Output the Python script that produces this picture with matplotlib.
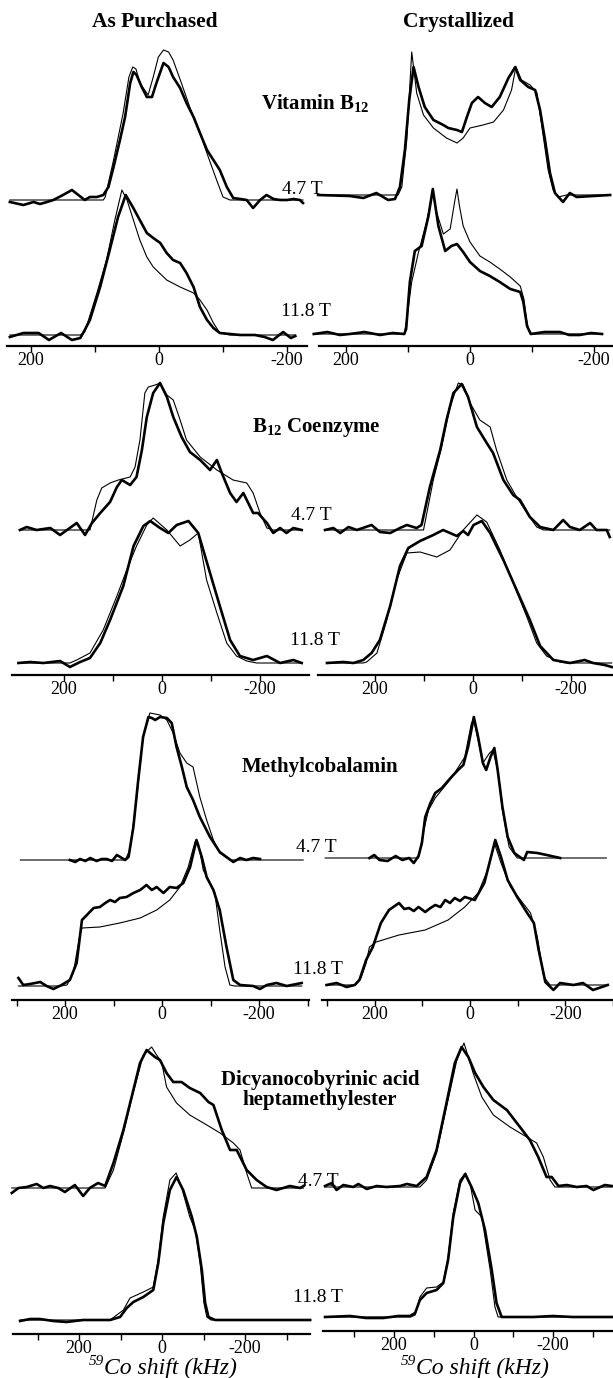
import matplotlib
matplotlib.use("Agg")
import matplotlib.pyplot as plt

# ---- spectra: (59Co shift in kHz, intensity) ----
# Vitamin B12
VB12_AP_47_EXP = [(233, -2), (212, -5), (196, -2), (186, -4), (175, -2), (165, 0), (150, 5), (136, 10),
                  (126, 5), (116, 0), (108, 3), (97, 3), (87, 5), (79, 13), (71, 33), (61, 60), (53, 83),
                  (45, 117), (40, 128), (35, 125), (27, 113), (19, 103), (11, 103), (4, 117), (-7, 137),
                  (-15, 133), (-22, 123), (-33, 112), (-43, 97), (-54, 83), (-64, 67), (-75, 50), (-85, 40),
                  (-95, 30), (-106, 13), (-116, 2), (-127, 1), (-137, 0), (-147, -8), (-158, 0), (-168, 5),
                  (-179, 1), (-189, 0), (-200, 0), (-210, 1), (-220, 0), (-225, -3)]
VB12_AP_47_SIM = [(233, 0), (87, 0), (84, 3), (71, 40), (56, 87), (47, 123), (41, 133), (36, 131), (30, 117),
                  (17, 105), (9, 123), (1, 143), (-7, 150), (-15, 148), (-22, 140), (-35, 117), (-48, 93),
                  (-64, 67), (-77, 43), (-90, 20), (-100, 3), (-111, 0), (-225, 0)]
VB12_AP_118_EXP = [(233, -2), (212, 2), (188, 2), (172, -5), (153, 2), (136, -5), (123, -3), (116, 5),
                   (108, 15), (92, 48), (77, 85), (64, 118), (52, 140), (41, 128), (30, 115), (19, 102),
                   (9, 97), (-2, 92), (-12, 82), (-22, 75), (-33, 72), (-43, 62), (-54, 48), (-64, 28),
                   (-75, 15), (-85, 7), (-95, 2), (-127, 0), (-150, 0), (-165, -2), (-178, -5), (-194, 3),
                   (-206, -3), (-213, -1)]
VB12_AP_118_SIM = [(233, 0), (123, 0), (116, 3), (97, 42), (82, 75), (69, 115), (58, 145), (50, 135),
                   (40, 115), (30, 95), (19, 78), (9, 68), (-12, 55), (-33, 48), (-54, 42), (-64, 35),
                   (-75, 25), (-85, 12), (-95, 2), (-111, 0), (-213, 0)]
VB12_CR_47_EXP = [(245, 0), (194, -1), (172, -3), (151, 2), (132, -5), (121, -4), (113, 8), (105, 45),
                  (98, 95), (91, 128), (83, 108), (73, 88), (59, 75), (43, 70), (35, 67), (21, 65), (13, 63),
                  (5, 78), (-3, 92), (-13, 98), (-24, 92), (-35, 88), (-48, 98), (-62, 117), (-73, 128),
                  (-81, 115), (-94, 108), (-105, 105), (-113, 85), (-121, 55), (-129, 22), (-137, 2),
                  (-150, -7), (-161, 2), (-172, -2), (-226, 0)]
VB12_CR_47_SIM = [(245, 0), (116, 0), (110, 8), (102, 55), (94, 143), (86, 102), (75, 80), (59, 67),
                  (38, 57), (21, 52), (11, 57), (0, 67), (-21, 70), (-38, 73), (-54, 85), (-67, 105),
                  (-74, 128), (-83, 115), (-97, 110), (-108, 102), (-116, 68), (-126, 25), (-134, 5),
                  (-142, -2), (-156, 0), (-226, 0)]
VB12_CR_118_EXP = [(252, 0), (230, 2), (210, -1), (194, 0), (170, 2), (145, -1), (125, 1), (106, 0),
                   (103, 5), (97, 52), (89, 83), (78, 88), (67, 118), (60, 145), (51, 108), (40, 83),
                   (30, 88), (21, 90), (11, 82), (0, 72), (-16, 63), (-32, 58), (-48, 52), (-65, 45),
                   (-81, 42), (-86, 32), (-92, 8), (-98, 0), (-120, 2), (-145, 2), (-160, -1), (-177, -1),
                   (-195, 1), (-213, 0)]
VB12_CR_118_SIM = [(252, 0), (106, 0), (102, 15), (94, 52), (83, 82), (70, 112), (60, 143), (54, 122),
                   (43, 100), (32, 105), (24, 135), (21, 145), (17, 128), (11, 108), (0, 92), (-16, 78),
                   (-32, 72), (-48, 65), (-65, 57), (-81, 48), (-87, 35), (-91, 15), (-94, 5), (-98, 0),
                   (-213, 0)]

# B12 coenzyme
COE_AP_47_EXP = [(290, 0), (276, 3), (256, 0), (228, 2), (208, -5), (174, 7), (157, -5), (143, 7),
                 (126, 17), (106, 28), (92, 43), (82, 50), (65, 45), (52, 53), (41, 80), (31, 113),
                 (18, 137), (4, 147), (-10, 133), (-23, 113), (-40, 93), (-57, 78), (-78, 70), (-98, 60),
                 (-112, 70), (-122, 57), (-139, 37), (-152, 28), (-166, 37), (-186, 17), (-196, 17),
                 (-214, 7), (-227, -3), (-241, 2), (-254, -3), (-268, 2), (-285, 0)]
COE_AP_47_SIM = [(290, 0), (147, 0), (133, 30), (123, 42), (106, 47), (89, 50), (65, 53), (55, 63),
                 (45, 90), (35, 137), (28, 143), (14, 145), (4, 147), (-10, 135), (-23, 130), (-37, 110),
                 (-50, 90), (-78, 73), (-112, 60), (-145, 50), (-173, 47), (-186, 37), (-200, 17),
                 (-214, 2), (-227, 0), (-285, 0)]
COE_AP_118_EXP = [(293, 0), (269, 1), (242, 0), (208, 2), (188, -4), (167, 1), (147, 5), (126, 20),
                  (106, 43), (79, 77), (58, 117), (38, 137), (24, 142), (4, 135), (-13, 130), (-30, 138),
                  (-54, 142), (-74, 130), (-98, 90), (-118, 57), (-139, 23), (-159, 7), (-186, 3),
                  (-214, 7), (-241, 0), (-268, 3), (-285, 0)]
COE_AP_118_SIM = [(293, 0), (188, 0), (174, 3), (147, 10), (120, 33), (92, 67), (72, 93), (52, 117),
                  (31, 138), (18, 145), (-10, 133), (-37, 117), (-57, 123), (-74, 130), (-91, 83),
                  (-112, 50), (-132, 20), (-152, 7), (-173, 2), (-193, 0), (-285, 0)]
COE_CR_47_EXP = [(302, 0), (285, 2), (271, -3), (254, 3), (237, 0), (207, 5), (190, -2), (169, -3),
                 (149, 2), (135, 5), (115, 2), (105, 5), (88, 43), (67, 80), (54, 110), (40, 137),
                 (23, 146), (10, 133), (-8, 103), (-28, 87), (-41, 77), (-62, 50), (-82, 35), (-96, 30),
                 (-116, 13), (-137, 3), (-164, 0), (-184, 10), (-198, 3), (-218, 0), (-239, 7), (-252, 0),
                 (-273, 0), (-279, -7)]
COE_CR_47_SIM = [(302, 0), (101, 0), (81, 50), (64, 83), (47, 123), (30, 147), (20, 145), (6, 127),
                 (-14, 110), (-35, 103), (-48, 80), (-69, 50), (-89, 33), (-110, 17), (-130, 3),
                 (-144, 0), (-279, 0)]
COE_CR_118_EXP = [(298, 0), (265, 1), (244, 0), (224, 3), (207, 10), (190, 23), (169, 57), (149, 97),
                  (132, 115), (108, 122), (81, 128), (61, 133), (33, 127), (20, 132), (10, 128), (-1, 138),
                  (-18, 142), (-35, 130), (-62, 103), (-89, 73), (-116, 43), (-137, 17), (-164, 3),
                  (-198, 0), (-228, 3), (-245, 0), (-269, -2), (-283, -4)]
COE_CR_118_SIM = [(298, 0), (224, 0), (217, 1), (196, 10), (176, 43), (156, 83), (135, 110), (108, 111),
                  (74, 106), (47, 113), (20, 133), (-8, 148), (-28, 141), (-55, 113), (-82, 80),
                  (-110, 46), (-130, 20), (-150, 7), (-177, 1), (-191, 0), (-283, 0)]

# Methylcobalamin
MEC_AP_47_EXP = [(190, 0), (179, -2), (169, 1), (158, -1), (148, 2), (135, -1), (124, 1), (114, 1),
                 (103, -1), (93, 5), (76, 0), (69, 3), (59, 33), (49, 80), (39, 123), (28, 143), (21, 142),
                 (14, 140), (4, 143), (-10, 142), (-20, 137), (-30, 113), (-41, 93), (-51, 73), (-64, 60),
                 (-78, 43), (-99, 23), (-119, 8), (-133, 3), (-147, -2), (-161, 2), (-174, 0), (-188, 2),
                 (-202, 1)]
MEC_AP_47_SIM = [(292, 0), (76, 0), (66, 10), (52, 63), (39, 123), (25, 147), (4, 145), (-10, 140),
                 (-23, 127), (-37, 107), (-51, 97), (-64, 93), (-78, 63), (-92, 40), (-106, 20), (-119, 7),
                 (-140, 0), (-291, 0)]
MEC_AP_118_EXP = [(296, 8), (286, 1), (272, 2), (251, 4), (238, 0), (224, -3), (207, 1), (190, 6),
                  (176, 23), (165, 66), (155, 71), (141, 78), (128, 79), (117, 83), (107, 86), (97, 84),
                  (87, 88), (73, 89), (59, 93), (45, 96), (32, 101), (21, 96), (11, 99), (-3, 93),
                  (-16, 99), (-30, 98), (-44, 103), (-58, 119), (-71, 146), (-82, 129), (-92, 109),
                  (-106, 96), (-119, 76), (-133, 39), (-147, 6), (-161, 1), (-188, 0), (-202, -3),
                  (-216, 1), (-236, 3), (-257, 0), (-288, 3)]
MEC_AP_118_SIM = [(296, 0), (210, 0), (196, 1), (183, 13), (170, 49), (165, 58), (128, 59), (87, 63),
                  (45, 68), (11, 76), (-16, 86), (-37, 99), (-54, 119), (-68, 144), (-75, 143), (-85, 116),
                  (-99, 103), (-109, 93), (-119, 56), (-130, 19), (-140, 1), (-150, 0), (-288, 0)]
MEC_CR_47_EXP = [(211, 0), (201, 3), (190, -2), (173, -3), (156, 2), (142, -2), (128, 0), (118, -5),
                 (108, 2), (101, 15), (94, 41), (83, 55), (73, 65), (59, 70), (39, 81), (25, 88), (14, 93),
                 (4, 111), (-8, 141), (-17, 121), (-27, 95), (-34, 88), (-43, 101), (-51, 110), (-58, 88),
                 (-68, 51), (-79, 21), (-93, 5), (-113, -2), (-120, 6), (-141, 5), (-161, 3), (-189, 0)]
MEC_CR_47_SIM = [(304, 0), (108, 0), (97, 28), (87, 48), (73, 60), (39, 80), (11, 101), (-3, 135),
                 (-8, 138), (-17, 118), (-27, 95), (-41, 105), (-48, 108), (-58, 88), (-68, 48), (-82, 11),
                 (-99, 0), (-286, 0)]
MEC_CR_118_EXP = [(301, 0), (280, 2), (259, -2), (242, 0), (232, 5), (218, 25), (204, 38), (187, 62),
                  (170, 75), (149, 82), (138, 76), (128, 77), (118, 74), (108, 78), (94, 73), (83, 77),
                  (73, 80), (62, 78), (52, 85), (42, 82), (32, 87), (21, 84), (11, 88), (-10, 85),
                  (-30, 102), (-44, 128), (-53, 145), (-65, 128), (-79, 105), (-99, 88), (-120, 72),
                  (-134, 62), (-144, 35), (-158, 3), (-175, -5), (-189, 2), (-217, 0), (-237, 2),
                  (-258, -5), (-289, 0)]
MEC_CR_118_SIM = [(301, 0), (240, 0), (228, 8), (218, 22), (211, 38), (197, 43), (149, 50), (94, 55),
                  (46, 65), (11, 78), (-17, 92), (-37, 115), (-51, 142), (-65, 122), (-85, 98), (-106, 85),
                  (-127, 72), (-141, 48), (-155, 8), (-168, 0), (-289, 0)]

# Dicyanocobyrinic acid heptamethylester
DCB_AP_47_EXP = [(362, -5), (346, 0), (326, 1), (302, 4), (286, 0), (270, 2), (250, 0), (234, -4),
                 (210, 3), (190, -8), (174, 0), (154, 5), (137, 2), (117, 25), (93, 58), (69, 98),
                 (53, 125), (37, 138), (17, 131), (5, 128), (-11, 115), (-27, 106), (-47, 106), (-67, 100),
                 (-92, 95), (-112, 86), (-124, 83), (-144, 58), (-164, 38), (-180, 38), (-204, 18),
                 (-228, 8), (-252, 1), (-276, -2), (-292, 0), (-308, 2), (-333, 0), (-341, 2)]
DCB_AP_47_SIM = [(362, 0), (137, 0), (117, 18), (93, 55), (69, 96), (45, 133), (25, 141), (13, 133),
                 (1, 126), (-11, 101), (-35, 85), (-67, 73), (-108, 63), (-140, 55), (-172, 45), (-188, 38),
                 (-204, 15), (-216, 0), (-341, 0)]
DCB_AP_118_EXP = [(342, -1), (318, 1), (294, 1), (262, -1), (230, -2), (190, 0), (125, 0), (101, 3),
                  (85, 12), (69, 18), (45, 23), (21, 30), (9, 57), (-3, 97), (-19, 130), (-35, 143),
                  (-51, 130), (-72, 103), (-84, 83), (-96, 50), (-104, 17), (-112, 3), (-128, 0),
                  (-200, 0), (-357, 0)]
DCB_AP_118_SIM = [(342, 0), (125, 0), (93, 10), (77, 22), (45, 28), (21, 33), (9, 60), (-3, 103),
                  (-19, 140), (-34, 147), (-47, 133), (-67, 103), (-80, 90), (-92, 57), (-101, 17),
                  (-108, 3), (-118, 0), (-357, 0)]
DCB_CR_47_EXP = [(374, 1), (357, 4), (345, -3), (328, 2), (303, 0), (290, 3), (269, -2), (244, 1),
                 (219, 0), (185, 1), (168, 3), (143, 1), (118, 10), (93, 37), (68, 84), (47, 124),
                 (30, 140), (13, 130), (-4, 114), (-25, 100), (-50, 87), (-84, 77), (-117, 60), (-142, 47),
                 (-163, 30), (-184, 10), (-197, 10), (-214, 1), (-235, 2), (-260, 0), (-285, 1),
                 (-302, -3), (-331, 2), (-348, 1)]
DCB_CR_47_SIM = [(374, 0), (135, 0), (118, 7), (93, 34), (68, 80), (42, 127), (24, 144), (13, 130),
                 (1, 114), (-21, 90), (-50, 72), (-92, 60), (-134, 50), (-159, 44), (-176, 30), (-193, 7),
                 (-205, 0), (-348, 0)]
DCB_CR_118_EXP = [(374, 0), (311, 1), (270, -1), (227, -1), (190, 1), (160, 1), (147, 4), (135, 17),
                  (118, 24), (93, 27), (76, 34), (64, 57), (51, 100), (34, 134), (21, 143), (5, 130),
                  (-12, 114), (-29, 87), (-46, 47), (-58, 14), (-71, 0), (-151, 0), (-200, 1), (-250, 0),
                  (-348, 0)]
DCB_CR_118_SIM = [(374, 0), (158, 0), (147, 2), (135, 20), (118, 29), (93, 30), (76, 35), (64, 60),
                  (51, 104), (34, 137), (20, 144), (9, 134), (-4, 107), (-21, 100), (-42, 47), (-54, 10),
                  (-62, 0), (-348, 0)]

COLUMN_TITLES = ["As Purchased", "Crystallized"]
COMPOUNDS = [r"Vitamin B$_{\mathbf{12}}$", r"B$_{\mathbf{12}}$ Coenzyme", "Methylcobalamin",
             "Dicyanocobyrinic acid\nheptamethylester"]
FIELDS = ["4.7 T", "11.8 T"]
TICK_LABELS = {200: "200", 0: "0", -200: "-200"}
XLABEL_SUP = "59"
XLABEL = "Co shift (kHz)"

# ---- layout (figure pixels) ----
W, H = 613, 1378
TOP = 320  # axes height in px, y data unit = 1 px

plt.rcParams["font.family"] = ["Liberation Serif", "DejaVu Serif"]
plt.rcParams["mathtext.fontset"] = "custom"
plt.rcParams["mathtext.rm"] = "Liberation Serif"
plt.rcParams["mathtext.it"] = "Liberation Serif:italic"
plt.rcParams["mathtext.bf"] = "Liberation Serif:bold"

# axis_y, left, right, x0 (px of 0 kHz), px per kHz, 4.7T offset, 11.8T offset, curves, ticks
panels = [
    (346, 7, 307, 159, 0.64, 146, 11,
     (VB12_AP_47_EXP, VB12_AP_47_SIM, VB12_AP_118_EXP, VB12_AP_118_SIM), range(200, -201, -100)),
    (346, 319, 613, 470, 0.62, 151, 12,
     (VB12_CR_47_EXP, VB12_CR_47_SIM, VB12_CR_118_EXP, VB12_CR_118_SIM), range(200, -201, -100)),
    (675, 12, 309, 162, 0.49, 145, 12,
     (COE_AP_47_EXP, COE_AP_47_SIM, COE_AP_118_EXP, COE_AP_118_SIM), range(200, -201, -100)),
    (675, 318, 613, 473, 0.49, 145, 12,
     (COE_CR_47_EXP, COE_CR_47_SIM, COE_CR_118_EXP, COE_CR_118_SIM), range(200, -201, -100)),
    (1000, 12, 309, 162, 0.485, 140, 14,
     (MEC_AP_47_EXP, MEC_AP_47_SIM, MEC_AP_118_EXP, MEC_AP_118_SIM), range(300, -301, -100)),
    (1000, 322, 613, 472, 0.483, 142, 15,
     (MEC_CR_47_EXP, MEC_CR_47_SIM, MEC_CR_118_EXP, MEC_CR_118_SIM), range(300, -301, -100)),
    (1334, 13, 310, 162, 0.415, 146, 14,
     (DCB_AP_47_EXP, DCB_AP_47_SIM, DCB_AP_118_EXP, DCB_AP_118_SIM), range(300, -301, -100)),
    (1331, 323, 613, 473.5, 0.397, 144, 14,
     (DCB_CR_47_EXP, DCB_CR_47_SIM, DCB_CR_118_EXP, DCB_CR_118_SIM), range(300, -301, -100)),
]

fig = plt.figure(figsize=(W / 100, H / 100), dpi=100)


def fx(x):
    return x / W


def fy(y):
    return 1 - y / H


for axis_y, left, right, x0, s, off47, off118, curves, ticks in panels:
    ax = fig.add_axes([fx(left), fy(axis_y), (right - left) / W, TOP / H])
    ax.patch.set_visible(False)
    ax.set_xlim((x0 - left) / s, (x0 - right) / s)
    ax.set_ylim(0, TOP)
    for curve, off, lw in zip(curves, (off47, off47, off118, off118), (1.9, 0.8, 1.9, 0.8)):
        xs = [p[0] for p in curve]
        ys = [off + p[1] for p in curve]
        ax.plot(xs, ys, color="black", lw=lw, clip_on=False, solid_joinstyle="round")
    for side in ("top", "left", "right"):
        ax.spines[side].set_visible(False)
    ax.spines["bottom"].set_linewidth(1.6)
    ticks = list(ticks)
    ax.set_xticks(ticks)
    ax.set_xticklabels([TICK_LABELS.get(t, "") for t in ticks])
    ax.set_yticks([])
    ax.tick_params(axis="x", direction="out", length=4, width=1, labelsize=13, pad=0.5)

# column titles
for x, t in zip((155, 458), COLUMN_TITLES):
    fig.text(fx(x), fy(22), t, ha="center", va="center", fontsize=15.5, fontweight="bold")

# compound names
for (x, y), name in zip([(315, 103), (316, 428), (320, 767), (320, 1090)], COMPOUNDS):
    fig.text(fx(x), fy(y), name, ha="center", va="center", fontsize=15, fontweight="bold",
             linespacing=0.95)

# field labels
for x, y in [(302, 190), (311, 515), (316, 848), (318, 1182)]:
    fig.text(fx(x), fy(y), FIELDS[0], ha="center", va="center", fontsize=14)
for x, y in [(306, 312), (315, 641), (318, 970), (318, 1298)]:
    fig.text(fx(x), fy(y), FIELDS[1], ha="center", va="center", fontsize=14)

# x labels: superscript mass number drawn as its own small text
fig.canvas.draw()
for cx in (170, 482):
    t = fig.text(fx(cx), fy(1374), XLABEL, ha="center", va="baseline",
                 fontsize=17, fontstyle="italic")
    bb = t.get_window_extent(renderer=fig.canvas.get_renderer())
    fig.text(bb.x0 / W, fy(1382 - 8 - 9), XLABEL_SUP, ha="right", va="baseline",
             fontsize=11, fontstyle="italic")

fig.savefig("out.png", dpi=100, facecolor="white")
